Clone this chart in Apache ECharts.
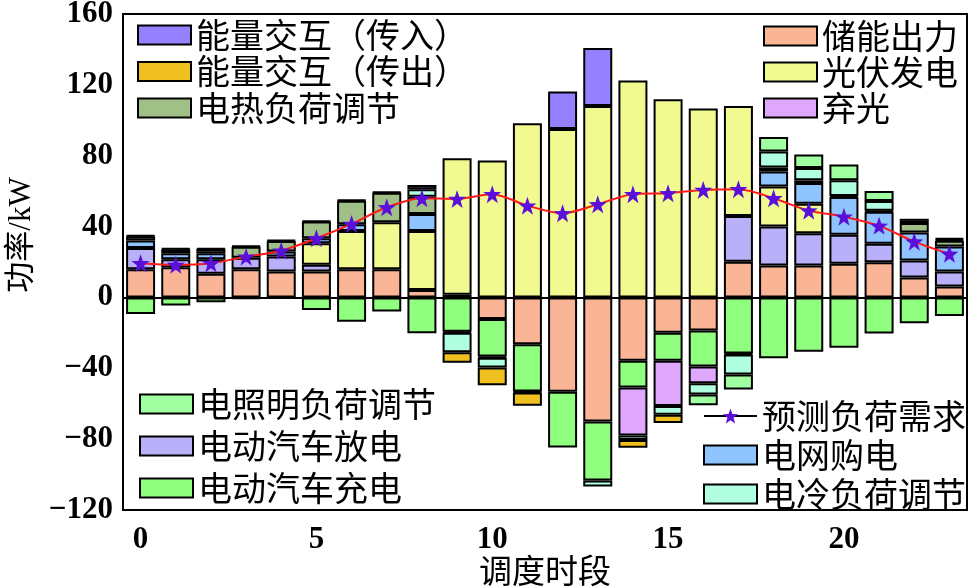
<!DOCTYPE html>
<html>
<head>
<meta charset="utf-8">
<script src="https://cdn.jsdelivr.net/npm/echarts@6/dist/echarts.min.js"></script>
<style>
  html, body { margin: 0; padding: 0; background: #fff; }
  #chart { width: 973px; height: 588px; }
</style>
</head>
<body>
<div id="chart"></div>
<script>
// 调度时段
const periods = ['0', '1', '2', '3', '4', '5', '6', '7', '8', '9', '10', '11', '12', '13', '14', '15', '16', '17', '18', '19', '20', '21', '22', '23'];

// 各出力 (kW)，null 表示该时段无
const storage   = [15.9, 17.0, 13.3, 15.9, 14.6, 14.6, 15.9, 15.9, 4.2, 1.5, -12.2, -26.4, -53.3, -70.1, -35.7, -19.9, -18.7, 20.2, 18.0, 18.0, 19.0, 19.9, 11.3, 6.2];
const evOut     = [12.0, 4.5, 8.3, 6.5, 8.5, 3.8, null, null, null, null, null, null, null, null, null, null, null, 25.8, 22.0, 18.3, 16.4, 10.4, 9.6, 8.5];
const evIn      = [-9.3, -4.6, -2.7, -1.0, null, -7.1, -13.7, -8.0, -20.2, -19.4, -21.2, -26.7, -31.4, -33.3, -15.2, -15.8, -20.3, -31.6, -34.4, -30.6, -28.4, -20.3, -14.6, -10.5];
const pv        = [null, null, null, null, null, 12.2, 21.6, 26.5, 33.3, 77.0, 77.3, 98.3, 95.1, 108.1, 122.4, 111.9, 106.6, 62.1, 22.6, 16.6, null, null, null, null];
const pvCut     = [null, null, null, null, null, null, null, null, null, -0.6, -0.6, null, null, null, -27.1, -25.6, -9.5, -0.6, null, null, null, null, null, null];
const grid      = [4.3, 3.4, 3.4, null, 2.8, 2.8, 3.8, null, 9.6, null, null, null, null, null, null, null, null, null, 8.5, 11.7, 21.3, 18.0, 15.8, 14.1];
const heatAdj   = [2.3, 2.3, 2.3, 6.2, 6.0, 9.4, 13.3, 16.7, 9.8, null, null, null, null, null, null, null, null, null, 2.3, 1.5, 0.6, 0.6, 5.3, 3.2];
const coolAdj   = [0.5, 0.5, 0.5, 0.5, 0.5, 0.5, 0.5, 0.5, 4.1, -10.9, -5.6, -0.6, null, -3.4, -2.5, -4.9, -6.3, -11.3, 9.0, 7.0, 8.8, 5.6, 1.2, 0.8];
const lightAdj  = [null, null, null, null, null, null, null, null, null, null, null, null, null, null, null, null, -6.0, -8.5, 8.1, 7.6, 9.0, 5.6, 1.2, 0.6];
const exIn      = [null, null, null, null, null, null, null, null, 2.4, null, null, null, 21.1, 32.7, null, null, null, null, null, null, null, null, null, null];
const exOut     = [null, null, null, null, null, null, null, null, null, -6.0, -10.0, -7.5, null, null, -4.3, -4.7, null, null, null, null, null, null, null, null];
// 预测负荷需求
const loadDemand = [19.3, 18.4, 19.3, 23.0, 26.4, 33.4, 41.5, 50.9, 56.0, 55.6, 58.3, 51.8, 47.5, 52.6, 58.3, 58.8, 60.7, 61.1, 56.0, 49.0, 45.6, 40.4, 31.5, 24.6];

const chart = echarts.init(document.getElementById('chart'));

const cnFont = '"Noto Sans CJK SC"';
const numFont = '"Liberation Serif", "Noto Sans CJK SC"';
const star = 'path://M0,-10 L2.35,-3.24 L9.51,-3.09 L3.8,1.24 L5.88,8.09 L0,4 L-5.88,8.09 L-3.8,1.24 L-9.51,-3.09 L-2.35,-3.24 Z';

function bar(name, arr, color) {
  return {
    name: name,
    type: 'bar',
    stack: 'total',
    barWidth: 29,
    data: arr.map(v => (v == null ? '-' : v)),
    itemStyle: { color: color, borderColor: '#000', borderWidth: 2 }
  };
}

const series = [
  bar('储能出力', storage, '#FAB496'),
  bar('电动汽车放电', evOut, '#B8B0F8'),
  bar('电动汽车充电', evIn, '#90FF80'),
  bar('光伏发电', pv, '#F0FA90'),
  bar('弃光', pvCut, '#E0A8FC'),
  bar('电网购电', grid, '#90C4FF'),
  bar('电热负荷调节', heatAdj, '#A0C088'),
  bar('电冷负荷调节', coolAdj, '#B0FFE0'),
  bar('电照明负荷调节', lightAdj, '#A0FFA0'),
  bar('能量交互（传入）', exIn, '#9580FF'),
  bar('能量交互（传出）', exOut, '#F0C020'),
  {
    name: '预测负荷需求',
    type: 'line',
    smooth: 0.3,
    data: loadDemand,
    symbol: star,
    symbolSize: 18,
    z: 5,
    itemStyle: { color: '#5A10D8' },
    lineStyle: { color: '#FF1A1A', width: 2 }
  }
];

// 0 线
series[0].markLine = {
  silent: true,
  symbol: 'none',
  label: { show: false },
  lineStyle: { color: '#000', width: 2, type: 'solid' },
  data: [{ yAxis: 0 }]
};

const legendText = { fontSize: 34, lineHeight: 30, fontFamily: cnFont, color: '#000' };
function legend(left, top, gap, items) {
  return {
    orient: 'vertical',
    left: left,
    top: top,
    padding: 0,
    itemGap: gap,
    itemWidth: 53,
    itemHeight: 19,
    selectedMode: false,
    textStyle: legendText,
    data: items
  };
}

const option = {
  animation: false,
  backgroundColor: '#fff',
  grid: {
    left: 123, right: 6, top: 14, bottom: 78,
    outerBoundsMode: 'none', containLabel: false,
    show: true, borderColor: '#000', borderWidth: 2
  },
  legend: [
    legend(137, 18, 2.5, [
      { name: '能量交互（传入）', icon: 'rect' },
      { name: '能量交互（传出）', icon: 'rect' },
      { name: '电热负荷调节', icon: 'rect' }
    ]),
    legend(763, 19, 2, [
      { name: '储能出力', icon: 'rect' },
      { name: '光伏发电', icon: 'rect' },
      { name: '弃光', icon: 'rect' }
    ]),
    legend(139, 387, 8, [
      { name: '电照明负荷调节', icon: 'rect' },
      { name: '电动汽车放电', icon: 'rect' },
      { name: '电动汽车充电', icon: 'rect' }
    ]),
    legend(703, 399, 5, [
      { name: '预测负荷需求', lineStyle: { color: '#000', width: 2 } },
      { name: '电网购电', icon: 'rect' },
      { name: '电冷负荷调节', icon: 'rect' }
    ])
  ],
  xAxis: {
    type: 'category',
    data: periods,
    boundaryGap: true,
    name: '调度时段',
    nameLocation: 'middle',
    nameGap: 44,
    nameMoveOverlap: false,
    nameTextStyle: { fontSize: 33, fontFamily: cnFont, color: '#000' },
    axisLine: { onZero: false, lineStyle: { color: '#000', width: 2 } },
    axisTick: { inside: true, length: 10, alignWithLabel: true, interval: 4, lineStyle: { width: 2 } },
    axisLabel: { interval: 4, fontSize: 31, fontWeight: 'bold', fontFamily: numFont, color: '#000', margin: 14 },
    splitLine: { show: false }
  },
  yAxis: {
    type: 'value',
    min: -120,
    max: 160,
    interval: 40,
    name: '功率/kW',
    nameLocation: 'middle',
    nameGap: 86,
    nameMoveOverlap: false,
    nameTextStyle: { fontSize: 31, fontFamily: numFont, color: '#000', padding: [0, 0, 0, 54] },
    axisLine: { onZero: false, lineStyle: { color: '#000', width: 2 } },
    axisTick: { inside: true, length: 10, lineStyle: { width: 2 } },
    axisLabel: {
      fontSize: 31, fontFamily: numFont, fontWeight: 'bold', color: '#000', margin: 10,
      formatter: v => String(v).replace('-', '\u2212')
    },
    splitLine: { show: false }
  },
  series: series
};

chart.setOption(option);
</script>
</body>
</html>
